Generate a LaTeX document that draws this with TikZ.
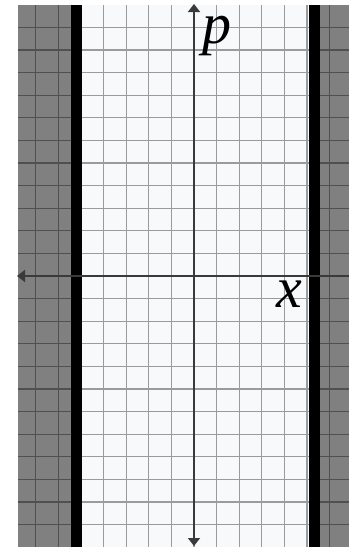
\documentclass[tikz,border=0pt]{standalone}
\usepackage{fontspec}
\setmainfont{Liberation Serif}
\usetikzlibrary{arrows.meta}
\definecolor{paper}{HTML}{F7F9FB}
\definecolor{zone}{HTML}{808080}
\definecolor{gridlight}{HTML}{999B9D}
\definecolor{griddark}{HTML}{505050}
\definecolor{axiscol}{HTML}{3A3A3A}
\tikzset{
  lightgrid/.style={draw=gridlight, line width=1.3pt},
  darkgrid/.style={draw=griddark, line width=1.3pt},
  wall/.style={draw=black, line width=11pt},
  axis/.style={draw=axiscol, line width=1.6pt},
  tip/.style={-{Triangle[width=12pt,length=8pt]}},
  lbl/.style={inner sep=0pt, font=\fontsize{58}{58}\selectfont\itshape}
}
\begin{document}
\begin{tikzpicture}[x=1pt,y=-1pt]
\useasboundingbox (0,0) rectangle (349,547);
\fill[white] (0,0) rectangle (349,547);
% regions
\fill[paper] (76,5) rectangle (314,547);
\fill[zone] (18,5) rectangle (76,547);
\fill[zone] (314,5) rectangle (349,547);
% grid in the allowed region
\begin{scope}
  \clip (76,5) rectangle (314,547);
  \foreach \k in {-6,...,7} \draw[lightgrid] ({194+22.6*\k},5) -- ({194+22.6*\k},547);
  \foreach \k in {-12,...,12} \draw[lightgrid] (18,{276+22.6*\k}) -- (349,{276+22.6*\k});
\end{scope}
% grid in the forbidden regions
\begin{scope}
  \clip (18,5) rectangle (76,547) (314,5) rectangle (349,547);
  \foreach \k in {-7,...,7} \draw[darkgrid] ({194+22.6*\k},5) -- ({194+22.6*\k},547);
  \foreach \k in {-12,...,12} \draw[darkgrid] (18,{276+22.6*\k}) -- (349,{276+22.6*\k});
\end{scope}
% walls
\coordinate (wlt) at (76.5,5);
\coordinate (wlb) at (76.5,547);
\coordinate (wrt) at (314,5);
\coordinate (wrb) at (314,547);
\draw[wall] (wlt) -- (wlb);
\draw[wall] (wrt) -- (wrb);
% axes
\coordinate (ptop) at (194,4);
\coordinate (pbot) at (194,546);
\coordinate (xleft) at (17,276);
\coordinate (xright) at (349,276);
\draw[axis, tip] (xright) -- (xleft);
\draw[axis, {Triangle[width=12pt,length=8pt]}-{Triangle[width=12pt,length=8pt]}] (pbot) -- (ptop);
% labels
\node[lbl] (plabel) at (217,36.5) {p};
\node[lbl] (xlabel) at (289,294) {x};
\end{tikzpicture}
\end{document}
